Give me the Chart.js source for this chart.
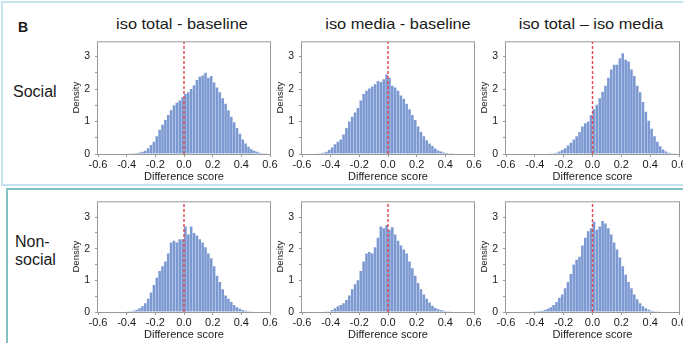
<!DOCTYPE html>
<html><head><meta charset="utf-8">
<script src="https://cdn.jsdelivr.net/npm/chart.js@4.4.1/dist/chart.umd.min.js"></script>
<style>
html,body{margin:0;padding:0;background:#fff;}
body{width:683px;height:343px;position:relative;overflow:hidden;font-family:"Liberation Sans",Arial,sans-serif;color:#1a1a1a;}
.frame{position:absolute;box-sizing:border-box;}
.lbl{position:absolute;white-space:nowrap;line-height:1;}
</style></head><body>
<div class="frame" style="left:1px;top:1px;width:720px;height:185px;border:2px solid #c6e3ef;"></div>
<div class="frame" style="left:6px;top:188px;width:720px;height:220px;border:2px solid #84c1c3;"></div>
<script>
// ---------- data ----------
const binCenters = [-0.59,-0.57,-0.55,-0.53,-0.51,-0.49,-0.47,-0.45,-0.43,-0.41,
  -0.39,-0.37,-0.35,-0.33,-0.31,-0.29,-0.27,-0.25,-0.23,-0.21,
  -0.19,-0.17,-0.15,-0.13,-0.11,-0.09,-0.07,-0.05,-0.03,-0.01,
  0.01,0.03,0.05,0.07,0.09,0.11,0.13,0.15,0.17,0.19,
  0.21,0.23,0.25,0.27,0.29,0.31,0.33,0.35,0.37,0.39,
  0.41,0.43,0.45,0.47,0.49,0.51,0.53,0.55,0.57,0.59];

const socialTotalBase = [0,0,0,0,0,0,0,0,0,0,
  0,0.01,0.02,0.03,0.05,0.07,0.10,0.18,0.28,0.38,
  0.55,0.75,0.90,1.05,1.20,1.35,1.50,1.58,1.65,1.75,
  1.85,1.90,2.00,2.12,2.28,2.38,2.42,2.50,2.35,2.40,
  2.20,2.05,1.90,1.72,1.55,1.35,1.15,0.98,0.80,0.62,
  0.45,0.32,0.22,0.15,0.10,0.07,0.04,0.02,0.01,0];

const socialMediaBase = [0,0,0,0,0,0.01,0.02,0.04,0.07,0.12,
  0.20,0.30,0.38,0.45,0.60,0.80,1.00,1.15,1.28,1.42,
  1.65,1.85,1.95,2.02,2.08,2.15,2.25,2.22,2.30,2.45,
  2.35,2.10,2.05,1.95,1.80,1.70,1.55,1.38,1.20,1.05,
  0.85,0.68,0.55,0.42,0.32,0.25,0.17,0.11,0.08,0.05,
  0.03,0.02,0.01,0,0,0,0,0,0,0];

const socialTotalMedia = [0,0,0,0,0,0,0,0,0,0,
  0,0,0,0,0,0.01,0.02,0.04,0.08,0.12,
  0.18,0.26,0.35,0.45,0.55,0.68,0.85,0.95,1.00,1.20,
  1.38,1.52,1.72,1.92,2.10,2.35,2.60,2.75,2.75,2.95,
  3.10,2.90,2.85,2.60,2.40,2.10,1.90,1.60,1.30,1.02,
  0.78,0.55,0.38,0.24,0.14,0.08,0.04,0.02,0.01,0];

const nonsocialTotalBase = [0,0,0,0,0,0,0,0,0,0,
  0.01,0.02,0.04,0.07,0.12,0.18,0.28,0.42,0.62,0.85,
  1.08,1.30,1.45,1.60,1.85,2.20,2.25,2.20,2.30,2.30,
  2.70,2.45,2.70,2.50,2.42,2.30,2.20,2.05,1.85,1.70,
  1.45,1.15,0.95,0.72,0.52,0.42,0.32,0.22,0.15,0.10,
  0.06,0.04,0.02,0.01,0,0,0,0,0,0];

const nonsocialMediaBase = [0,0,0,0,0,0,0,0,0.01,0.02,
  0.06,0.12,0.18,0.22,0.28,0.38,0.52,0.72,0.88,1.00,
  1.30,1.60,1.85,1.90,1.85,2.05,2.35,2.70,2.65,2.75,
  2.60,2.68,2.45,2.25,2.10,1.98,1.85,1.60,1.38,1.15,
  0.92,0.72,0.55,0.42,0.30,0.20,0.13,0.09,0.06,0.04,
  0.02,0.01,0,0,0,0,0,0,0,0];

const nonsocialTotalMedia = [0,0,0,0,0,0,0,0,0,0.01,
  0.02,0.03,0.04,0.06,0.10,0.15,0.22,0.32,0.45,0.55,
  0.75,0.95,1.20,1.50,1.65,1.75,2.10,2.35,2.55,2.65,
  2.85,2.60,2.70,2.88,2.80,2.65,2.45,2.20,1.98,1.72,
  1.45,1.18,0.95,0.75,0.55,0.40,0.28,0.18,0.12,0.07,
  0.04,0.02,0.01,0,0,0,0,0,0,0];

const columnTitles = ["iso total - baseline", "iso media - baseline", "iso total \u2013 iso media"];
const rowLabels = [["Social"], ["Non-", "social"]];
const panelLetter = "B";
const xTicks = [-0.6, -0.4, -0.2, 0, 0.2, 0.4, 0.6];
const yTicks = [0, 0.5, 1, 1.5, 2, 2.5, 3];
const yAxisTitle = "Density";
const xAxisTitle = "Difference score";
const referenceLineX = 0;

const panelSeries = [
  [socialTotalBase, socialMediaBase, socialTotalMedia],
  [nonsocialTotalBase, nonsocialMediaBase, nonsocialTotalMedia]
];

// ---------- layout ----------
const colBounds = [[98, 270], [302, 474], [506, 679]];
const rowBounds = [[38, 154], [198, 312]];
const rowMax = [3.47, 3.5];
const titleCenters = [182, 398, 591];

function addLabel(text, css) {
  const d = document.createElement('div');
  d.className = 'lbl';
  d.textContent = text;
  d.style.cssText += css;
  document.body.appendChild(d);
  return d;
}
addLabel(panelLetter, 'left:18px;top:20px;font-size:14px;font-weight:bold;');
columnTitles.forEach((t, i) => {
  addLabel(t, `left:${titleCenters[i]}px;top:15.5px;font-size:15px;transform:translateX(-50%) scaleX(1.09);`);
});
addLabel(rowLabels[0][0], 'left:13px;top:83.5px;font-size:16px;');
addLabel(rowLabels[1][0], 'left:15px;top:233.5px;font-size:16px;');
addLabel(rowLabels[1][1], 'left:15px;top:251.5px;font-size:16px;');

Chart.defaults.font.family = '"Liberation Sans", Arial, sans-serif';
Chart.defaults.color = '#1a1a1a';

const boxPlugin = {
  id: 'box',
  afterDatasetsDraw(chart) {
    const {ctx, chartArea: a} = chart;
    ctx.save();
    ctx.strokeStyle = '#999999';
    ctx.lineWidth = 1;
    ctx.strokeRect(a.left - 0.5, a.top + 0.5, a.right - a.left + 1, a.bottom - a.top);
    ctx.restore();
  }
};

const YW = 32, XH = 30, PADT = 8, PADR = 14;

panelSeries.forEach((rowSeries, r) => {
  rowSeries.forEach((series, c) => {
    const [l, rr] = colBounds[c];
    const [t, b] = rowBounds[r];
    const w = rr - l + YW + PADR, h = b - t + PADT + XH;
    const cv = document.createElement('canvas');
    cv.width = w; cv.height = h;
    cv.style.cssText = `position:absolute;left:${l - YW}px;top:${t - PADT}px;width:${w}px;height:${h}px;`;
    document.body.appendChild(cv);
    const ymax = rowMax[r];
    new Chart(cv, {
      type: 'bar',
      data: {
        datasets: [
          {
            type: 'line',
            order: 0,
            data: [{x: referenceLineX, y: 0}, {x: referenceLineX, y: ymax}],
            borderColor: '#e2464f',
            borderWidth: 1.4,
            borderDash: [3, 2],
            pointRadius: 0,
            fill: false
          },
          {
            type: 'bar',
            order: 1,
            data: binCenters.map((x, i) => ({x: x, y: series[i]})),
            backgroundColor: '#7c99d2',
            borderWidth: 0,
            barPercentage: 0.9,
            categoryPercentage: 1.0
          }
        ]
      },
      options: {
        responsive: false,
        animation: false,
        devicePixelRatio: 1,
        layout: {padding: {left: 0, top: PADT, right: PADR, bottom: 0}},
        plugins: {legend: {display: false}, tooltip: {enabled: false}},
        scales: {
          x: {
            type: 'linear',
            min: -0.6, max: 0.6,
            offset: false,
            afterBuildTicks: s => { s.ticks = xTicks.map(v => ({value: v})); },
            afterFit: s => { s.height = XH; },
            grid: {drawOnChartArea: false, drawTicks: true, tickLength: 3, color: '#999999', offset: false},
            border: {display: false},
            ticks: {
              padding: 1.5,
              font: {size: 11},
              color: '#1a1a1a',
              maxRotation: 0,
              autoSkip: false,
              callback: v => (Math.abs(v) < 1e-9 ? 0 : v).toFixed(1)
            },
            title: {display: true, text: xAxisTitle, font: {size: 11}, padding: {top: 0, bottom: 0}, color: '#1a1a1a'}
          },
          y: {
            type: 'linear',
            min: 0, max: ymax,
            afterBuildTicks: s => { s.ticks = yTicks.map(v => ({value: v})); },
            afterFit: s => { s.width = YW; },
            grid: {drawOnChartArea: false, drawTicks: true, tickLength: 3, color: '#999999'},
            border: {display: false},
            ticks: {
              padding: 5,
              font: {size: 10.5},
              color: '#1a1a1a',
              autoSkip: false,
              callback: v => (Number.isInteger(v) ? String(v) : '')
            },
            title: {display: true, text: yAxisTitle, font: {size: 9.5}, padding: {top: 5, bottom: 0}, color: '#1a1a1a'}
          }
        }
      },
      plugins: [boxPlugin]
    });
  });
});
</script>
</body></html>
